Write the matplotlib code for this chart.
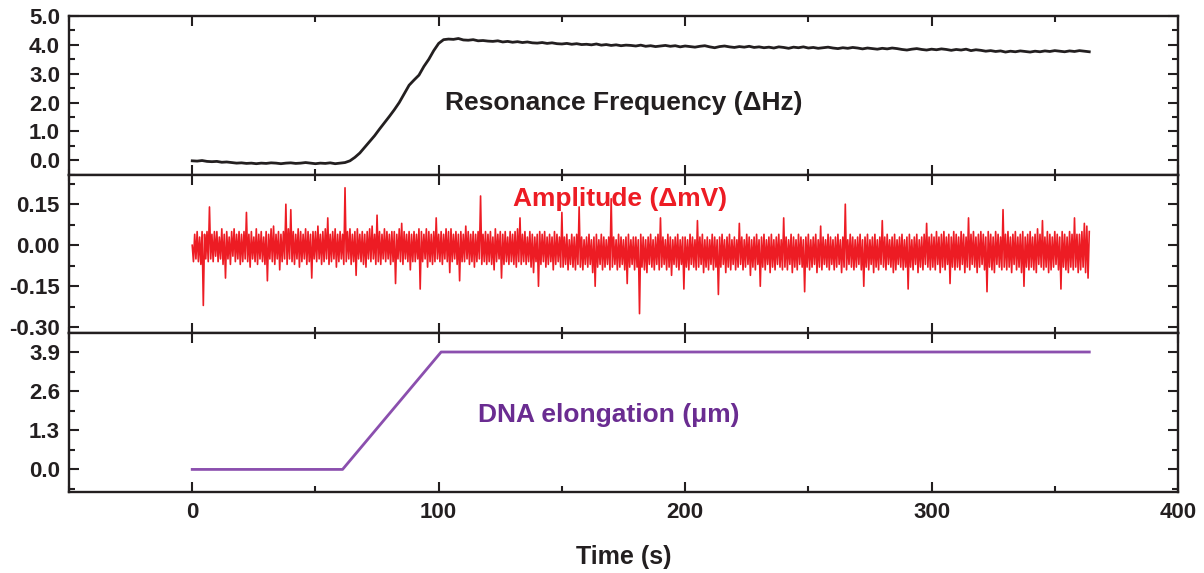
import numpy as np
import matplotlib
matplotlib.use("Agg")
import matplotlib.pyplot as plt
from matplotlib.ticker import MultipleLocator, FixedLocator

plt.rcParams['font.family'] = ['Liberation Sans', 'DejaVu Sans']
plt.rcParams['font.weight'] = 'bold'

# ---------------- data ----------------
# Resonance frequency shift (ΔHz), sampled every 2 s from 0 to 364 s
rf_values = [
    -0.02, -0.03, -0.01, -0.04, -0.05, -0.04, -0.07, -0.06, -0.08, -0.10,
    -0.09, -0.11, -0.10, -0.12, -0.10, -0.11, -0.09, -0.10, -0.12, -0.10,
    -0.09, -0.11, -0.10, -0.08, -0.10, -0.12, -0.10, -0.11, -0.09, -0.12,
    -0.10,
    -0.08, -0.02, 0.10, 0.25, 0.45, 0.65, 0.85, 1.08, 1.30, 1.52,
    1.75, 2.00, 2.30, 2.60, 2.78, 2.95, 3.25, 3.50, 3.80, 4.05,
    4.18, 4.20, 4.19, 4.22, 4.17,
    4.16, 4.18, 4.14, 4.15, 4.13, 4.12, 4.14, 4.10, 4.12, 4.09,
    4.11, 4.08, 4.10, 4.07, 4.06, 4.08, 4.05, 4.07, 4.04, 4.03,
    4.05, 4.02, 4.04, 4.01, 4.02, 4.00, 4.03, 3.99, 4.01, 3.98,
    4.00, 3.97, 3.99, 3.98, 3.96, 3.99, 3.95, 3.97, 3.94, 3.96,
    3.98, 3.95, 3.97, 3.93, 3.96, 3.94, 3.92, 3.95, 3.97, 3.93,
    3.90, 3.94, 3.96, 3.93, 3.91, 3.94, 3.92, 3.95, 3.91, 3.93,
    3.90, 3.92, 3.89, 3.93, 3.91, 3.88, 3.92, 3.90, 3.93, 3.89,
    3.91, 3.88, 3.90, 3.92, 3.89, 3.87, 3.90, 3.88, 3.91, 3.89,
    3.86, 3.89, 3.87, 3.85, 3.88, 3.86, 3.89, 3.87, 3.84, 3.82,
    3.85, 3.87, 3.84, 3.82, 3.85, 3.83, 3.86, 3.84, 3.81, 3.84,
    3.82, 3.85, 3.80, 3.83, 3.81, 3.78, 3.80, 3.77, 3.79, 3.75,
    3.78, 3.76, 3.79, 3.77, 3.75, 3.78, 3.76, 3.79, 3.77, 3.80,
    3.78, 3.76, 3.79, 3.77, 3.80, 3.78, 3.76,
]

# Amplitude shift (ΔmV), sampled every 0.5 s from 0 to 364 s
amp_values = [
    0.00,-0.06,0.04,-0.05,0.05,-0.06,0.03,-0.07,0.05,-0.22,0.04,-0.05,0.05,-0.06,0.14,-0.05,0.04,-0.06,0.05,-0.04,
    0.05,-0.06,0.03,-0.05,0.06,-0.07,0.04,-0.12,0.05,-0.05,0.03,-0.07,0.05,-0.04,0.06,-0.06,0.04,-0.05,0.05,-0.07,
    0.04,-0.06,0.05,-0.05,0.12,-0.06,0.04,-0.08,0.05,-0.05,0.03,-0.06,0.06,-0.07,0.04,-0.05,0.05,-0.06,0.03,-0.07,
    0.05,-0.13,0.04,-0.05,0.06,-0.06,0.07,-0.07,0.04,-0.05,0.05,-0.09,0.04,-0.06,0.05,-0.05,0.15,-0.07,0.06,-0.05,
    0.13,-0.06,0.05,-0.07,0.04,-0.05,0.06,-0.08,0.05,-0.06,0.04,-0.05,0.06,-0.07,0.05,-0.06,0.04,-0.12,0.05,-0.05,
    0.05,-0.06,0.07,-0.05,0.04,-0.07,0.05,-0.06,0.06,-0.05,0.10,-0.07,0.04,-0.06,0.05,-0.05,0.06,-0.08,0.04,-0.06,
    0.05,-0.05,0.04,-0.07,0.21,-0.06,0.05,-0.05,0.06,-0.07,0.04,-0.06,0.05,-0.11,0.06,-0.05,0.04,-0.06,0.05,-0.07,
    0.04,-0.08,0.05,-0.05,0.06,-0.06,0.07,-0.05,0.04,-0.07,0.11,-0.06,0.05,-0.07,0.04,-0.05,0.06,-0.06,0.05,-0.05,
    0.04,-0.07,0.05,-0.06,0.05,-0.14,0.04,-0.05,0.06,-0.06,0.08,-0.07,0.05,-0.05,0.04,-0.06,0.05,-0.09,0.04,-0.06,
    0.05,-0.06,0.04,-0.05,0.06,-0.16,0.05,-0.06,0.04,-0.05,0.06,-0.08,0.05,-0.06,0.04,-0.07,0.05,-0.06,0.10,-0.05,
    0.04,-0.06,0.05,-0.07,0.04,-0.05,0.06,-0.06,0.05,-0.10,0.06,-0.06,0.04,-0.05,0.05,-0.07,0.04,-0.13,0.05,-0.06,
    0.04,-0.06,0.07,-0.05,0.05,-0.07,0.04,-0.06,0.05,-0.08,0.04,-0.06,0.05,-0.05,0.18,-0.07,0.04,-0.06,0.05,-0.07,
    0.04,-0.06,0.05,-0.07,0.03,-0.09,0.06,-0.06,0.04,-0.05,0.05,-0.12,0.04,-0.07,0.05,-0.06,0.03,-0.07,0.05,-0.06,
    0.04,-0.07,0.05,-0.08,0.06,-0.06,0.10,-0.07,0.04,-0.06,0.05,-0.07,0.03,-0.06,0.05,-0.08,0.04,-0.10,0.03,-0.06,
    0.04,-0.15,0.05,-0.07,0.04,-0.06,0.05,-0.08,0.03,-0.07,0.04,-0.06,0.03,-0.09,0.05,-0.07,0.04,-0.06,0.03,-0.08,
    0.12,-0.08,0.03,-0.07,0.04,-0.09,0.02,-0.07,0.04,-0.08,0.03,-0.09,0.04,-0.07,0.14,-0.08,0.03,-0.09,0.02,-0.07,
    0.03,-0.08,0.04,-0.07,0.02,-0.10,0.03,-0.15,0.04,-0.08,0.02,-0.07,0.04,-0.09,0.03,-0.08,0.02,-0.07,0.03,-0.09,
    0.17,-0.08,0.03,-0.07,0.02,-0.09,0.04,-0.08,0.03,-0.07,0.02,-0.09,0.03,-0.14,0.04,-0.08,0.02,-0.07,0.03,-0.09,
    0.03,-0.08,0.02,-0.25,0.04,-0.08,0.03,-0.09,0.02,-0.10,0.03,-0.07,0.04,-0.08,0.02,-0.09,0.03,-0.07,0.04,-0.09,
    0.10,-0.08,0.03,-0.07,0.02,-0.09,0.04,-0.08,0.03,-0.11,0.02,-0.07,0.03,-0.08,0.04,-0.09,0.02,-0.07,0.03,-0.16,
    0.03,-0.08,0.02,-0.09,0.04,-0.07,0.03,-0.08,0.02,-0.09,0.09,-0.08,0.03,-0.07,0.04,-0.10,0.02,-0.08,0.03,-0.09,
    0.02,-0.07,0.04,-0.09,0.03,-0.08,0.02,-0.18,0.03,-0.08,0.04,-0.07,0.02,-0.10,0.03,-0.08,0.04,-0.09,0.02,-0.07,
    0.03,-0.09,0.02,-0.08,0.08,-0.07,0.03,-0.09,0.02,-0.08,0.04,-0.07,0.03,-0.11,0.02,-0.08,0.03,-0.09,0.04,-0.07,
    0.02,-0.15,0.03,-0.08,0.04,-0.09,0.02,-0.07,0.03,-0.10,0.04,-0.08,0.02,-0.09,0.03,-0.07,0.04,-0.08,0.02,-0.09,
    0.10,-0.08,0.03,-0.09,0.02,-0.07,0.04,-0.10,0.03,-0.08,0.02,-0.09,0.04,-0.07,0.03,-0.08,0.02,-0.17,0.03,-0.08,
    0.04,-0.09,0.02,-0.08,0.03,-0.07,0.04,-0.10,0.02,-0.08,0.07,-0.09,0.03,-0.07,0.02,-0.08,0.04,-0.09,0.03,-0.07,
    0.02,-0.09,0.03,-0.08,0.04,-0.07,0.02,-0.10,0.03,-0.08,0.15,-0.09,0.02,-0.07,0.04,-0.08,0.03,-0.09,0.02,-0.08,
    0.03,-0.07,0.04,-0.09,0.02,-0.15,0.03,-0.08,0.04,-0.09,0.02,-0.07,0.03,-0.10,0.04,-0.08,0.02,-0.09,0.03,-0.07,
    0.09,-0.08,0.03,-0.09,0.04,-0.07,0.02,-0.08,0.03,-0.10,0.04,-0.09,0.02,-0.07,0.03,-0.08,0.04,-0.09,0.02,-0.08,
    0.03,-0.16,0.04,-0.08,0.02,-0.09,0.03,-0.07,0.04,-0.10,0.02,-0.08,0.03,-0.09,0.04,-0.07,0.08,-0.08,0.03,-0.09,
    0.04,-0.08,0.03,-0.09,0.05,-0.07,0.03,-0.10,0.04,-0.08,0.05,-0.09,0.03,-0.07,0.04,-0.14,0.03,-0.08,0.05,-0.09,
    0.04,-0.08,0.03,-0.09,0.05,-0.07,0.04,-0.10,0.03,-0.08,0.10,-0.09,0.04,-0.07,0.05,-0.08,0.03,-0.10,0.04,-0.08,
    0.05,-0.07,0.04,-0.09,0.03,-0.17,0.05,-0.08,0.04,-0.09,0.03,-0.10,0.05,-0.07,0.04,-0.08,0.03,-0.09,0.13,-0.08,
    0.04,-0.09,0.05,-0.08,0.03,-0.10,0.04,-0.07,0.05,-0.09,0.03,-0.08,0.04,-0.10,0.05,-0.15,0.03,-0.08,0.04,-0.09,
    0.05,-0.08,0.03,-0.09,0.04,-0.10,0.06,-0.07,0.04,-0.08,0.09,-0.09,0.03,-0.08,0.05,-0.10,0.04,-0.09,0.03,-0.08,
    0.05,-0.07,0.04,-0.09,0.03,-0.16,0.05,-0.08,0.04,-0.09,0.03,-0.10,0.05,-0.08,0.04,-0.09,0.10,-0.08,0.04,-0.10,
    0.04,-0.09,0.05,-0.08,0.08,-0.10,0.07,-0.12,0.05,
]

# DNA elongation (µm): breakpoints of the ramp
dna_time = [0, 61, 101, 364]
dna_values = [0.0, 0.0, 3.9, 3.9]

t_end = 364
rf_time = np.linspace(0, t_end, len(rf_values))
amp_time = np.linspace(0, t_end, len(amp_values))

x_ticks = [0, 100, 200, 300, 400]
top_yticks = [0.0, 1.0, 2.0, 3.0, 4.0, 5.0]
mid_yticks = [-0.30, -0.15, 0.00, 0.15]
bot_yticks = [0.0, 1.3, 2.6, 3.9]

# ---------------- style ----------------
dark = '#231f20'
red = '#ed1c24'
purple_line = '#8b4fae'
purple_text = '#6a2c91'

fig = plt.figure(figsize=(12.04, 5.73), dpi=100)
gs = fig.add_gridspec(3, 1, left=69/1204, right=1178/1204,
                      top=1-16/573, bottom=1-492/573, hspace=0)
ax1 = fig.add_subplot(gs[0])
ax2 = fig.add_subplot(gs[1], sharex=ax1)
ax3 = fig.add_subplot(gs[2], sharex=ax1)

ax1.plot(rf_time, rf_values, color=dark, lw=2.0)
ax2.plot(amp_time, amp_values, color=red, lw=1.2)
ax3.plot(dna_time, dna_values, color=purple_line, lw=2.0)

ax1.set_ylim(-0.5, 5.0)
ax2.set_ylim(-0.322, 0.258)
ax3.set_ylim(-0.75, 4.52)
ax1.set_xlim(-50, 400)

ax1.yaxis.set_major_locator(FixedLocator(top_yticks))
ax1.yaxis.set_minor_locator(MultipleLocator(0.5))
ax1.set_yticklabels([f"{v:.1f}" for v in top_yticks])
ax2.yaxis.set_major_locator(FixedLocator(mid_yticks))
ax2.yaxis.set_minor_locator(MultipleLocator(0.075))
ax2.set_yticklabels([f"{v:.2f}" for v in mid_yticks])
ax3.yaxis.set_major_locator(FixedLocator(bot_yticks))
ax3.yaxis.set_minor_locator(MultipleLocator(0.65))
ax3.set_yticklabels([f"{v:.1f}" for v in bot_yticks])

ax3.xaxis.set_major_locator(FixedLocator(x_ticks))
ax3.xaxis.set_minor_locator(MultipleLocator(50))
ax3.set_xticklabels([str(v) for v in x_ticks])

for ax in (ax1, ax2, ax3):
    for s in ax.spines.values():
        s.set_linewidth(1.7)
        s.set_color(dark)
    ax.tick_params(which='both', direction='in', top=True, right=True,
                   color=dark, width=1.5, labelsize=16, labelcolor=dark)
    ax.tick_params(which='major', length=7)
    ax.tick_params(which='minor', length=4)
    ax.tick_params(axis='y', which='both', labelright=False, pad=6.5)
    ax.tick_params(axis='x', which='both', labeltop=False)
    for lab in ax.get_yticklabels():
        lab.set_fontweight('bold')

ax1.tick_params(axis='x', labelbottom=False)
ax2.tick_params(axis='x', labelbottom=False)
ax3.tick_params(axis='x', pad=7)
for lab in ax3.get_xticklabels():
    lab.set_fontweight('bold')

ax3.set_xlabel('Time (s)', fontsize=18, fontweight='bold', color=dark, labelpad=16)

ax1.text(175, 1.98, 'Resonance Frequency (ΔHz)', ha='center', va='center',
         fontsize=19, fontweight='bold', color=dark)
ax2.text(173.5, 0.17, 'Amplitude (ΔmV)', ha='center', va='center',
         fontsize=19, fontweight='bold', color=red)
ax3.text(169, 1.8, 'DNA elongation (μm)', ha='center', va='center',
         fontsize=19, fontweight='bold', color=purple_text)

fig.savefig('out.png', dpi=100)
